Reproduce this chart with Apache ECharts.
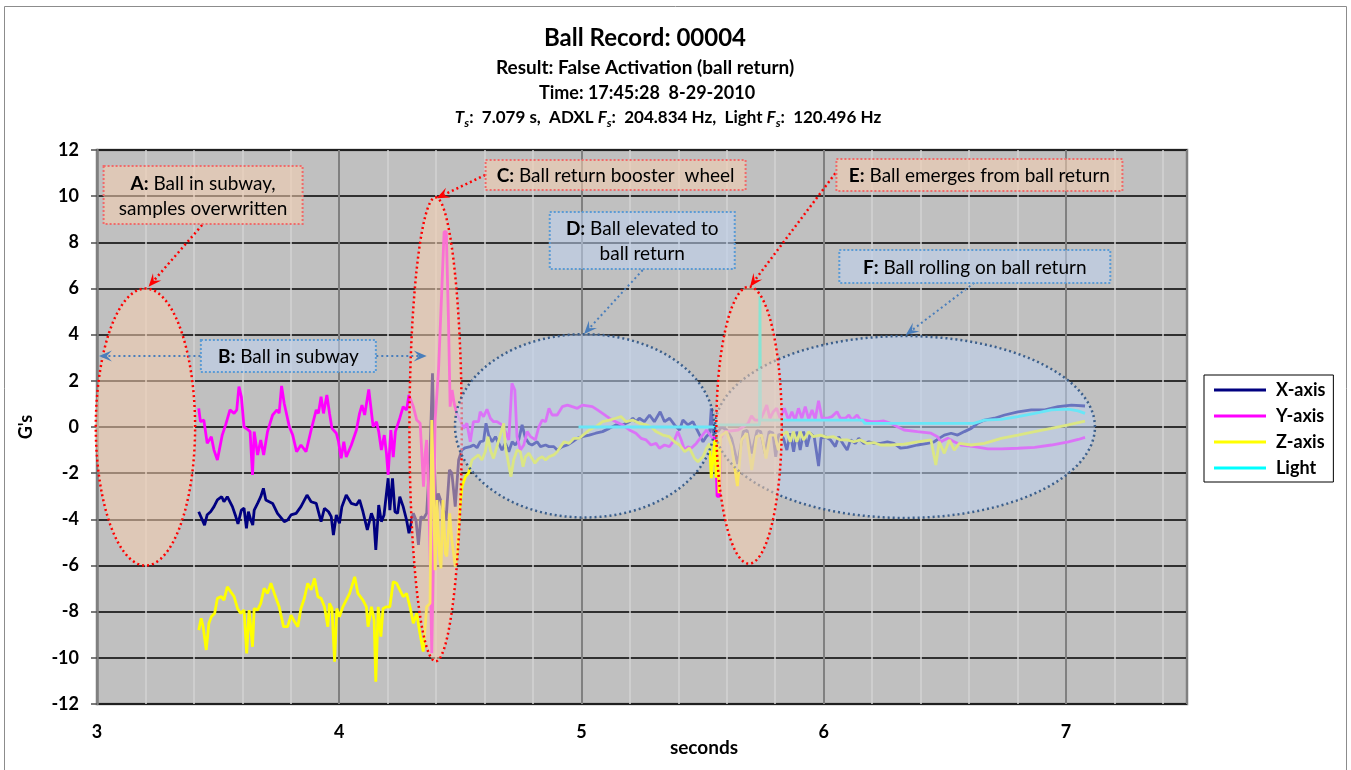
<!DOCTYPE html>
<html lang="en">
<head>
<meta charset="UTF-8">
<title>Ball Record: 00004</title>
<script src="https://cdn.jsdelivr.net/npm/echarts@6/dist/echarts.min.js"></script>
<style>
  html, body { margin: 0; padding: 0; background: #fff; }
  #main { width: 1351px; height: 770px; }
</style>
</head>
<body>
<div id="main"></div>
<script>
// traces, [seconds, G's]
var xAxisG = [[3.420,-3.67],[3.427,-3.75],[3.444,-4.25],[3.455,-3.8],[3.469,-3.67],[3.483,-3.45],[3.497,-3.16],[3.515,-3.02],[3.524,-3.24],[3.538,-3.02],[3.559,-3.45],[3.573,-3.88],[3.582,-4.20],[3.596,-3.60],[3.607,-3.52],[3.617,-4.39],[3.625,-3.67],[3.635,-4.03],[3.643,-4.25],[3.649,-3.60],[3.663,-3.31],[3.676,-3.02],[3.687,-2.66],[3.697,-3.16],[3.711,-3.24],[3.725,-3.31],[3.745,-3.74],[3.773,-4.10],[3.787,-4.03],[3.801,-3.81],[3.822,-3.74],[3.842,-3.45],[3.867,-2.95],[3.884,-3.24],[3.905,-3.31],[3.925,-4.10],[3.939,-3.52],[3.956,-3.67],[3.967,-3.88],[3.976,-4.68],[3.988,-3.81],[4.001,-4.17],[4.011,-3.45],[4.029,-2.95],[4.050,-3.31],[4.071,-3.38],[4.084,-3.16],[4.098,-3.67],[4.116,-4.46],[4.133,-3.74],[4.143,-4.03],[4.151,-5.33],[4.163,-3.38],[4.174,-4.10],[4.185,-3.81],[4.191,-3.88],[4.202,-2.22],[4.209,-3.60],[4.220,-2.22],[4.230,-3.67],[4.241,-3.74],[4.250,-3.02],[4.264,-3.45],[4.278,-4.03],[4.288,-4.60],[4.306,-3.74],[4.317,-4.03],[4.327,-5.11],[4.337,-3.88],[4.348,-3.96],[4.361,-3.74],[4.375,-1.14],[4.385,2.33],[4.392,-1.14],[4.400,-4.03],[4.409,-2.88],[4.423,-3.31],[4.430,-3.60],[4.441,-4.03],[4.455,-1.86],[4.465,-2.00],[4.479,-3.45],[4.493,-1.43],[4.506,-1.00],[4.520,-0.90],[4.541,-0.85],[4.555,-0.78],[4.569,-0.90],[4.582,-0.64],[4.596,-0.60],[4.606,0.16],[4.617,-0.35],[4.631,-0.64],[4.645,-0.42],[4.658,-0.70],[4.672,-1.00],[4.686,-0.70],[4.700,-1.07],[4.714,-0.64],[4.727,-0.78],[4.741,-0.56],[4.755,0.09],[4.769,-0.49],[4.783,-0.71],[4.796,-0.78],[4.817,-0.64],[4.831,-0.85],[4.852,-0.78],[4.866,-0.85],[4.886,-0.85],[4.900,-1.00],[4.921,-0.85],[4.942,-0.78],[4.963,-0.64],[4.983,-0.49],[5.004,-0.42],[5.032,-0.35],[5.059,-0.27],[5.087,-0.20],[5.115,-0.06],[5.142,0.09],[5.170,0.09],[5.198,0.23],[5.212,0.38],[5.225,0.23],[5.239,0.38],[5.260,0.23],[5.281,0.52],[5.301,0.23],[5.325,0.66],[5.343,0.23],[5.364,0.38],[5.384,0.09],[5.405,-0.13],[5.419,0.30],[5.440,0.09],[5.460,0.23],[5.481,-0.20],[5.502,-0.64],[5.515,-0.42],[5.529,-0.27],[5.536,0.81],[5.543,-0.27],[5.550,-0.13],[5.564,-0.20],[5.578,0.00],[5.600,-0.13],[5.620,-0.50],[5.645,-1.60],[5.668,-0.20],[5.684,-0.15],[5.703,-1.15],[5.725,-0.15],[5.740,-0.20],[5.758,-1.15],[5.775,-0.20],[5.790,-0.25],[5.802,-1.29],[5.815,-0.30],[5.834,-0.49],[5.848,-1.00],[5.862,-0.27],[5.876,-1.07],[5.889,-0.20],[5.903,-1.00],[5.917,-0.20],[5.931,-0.85],[5.945,-0.27],[5.961,-0.42],[5.979,-1.69],[5.989,-0.49],[6.007,-0.42],[6.028,-0.56],[6.048,-0.85],[6.062,-0.42],[6.083,-0.78],[6.097,-1.00],[6.111,-0.56],[6.131,-0.71],[6.145,-0.49],[6.166,-0.71],[6.187,-0.64],[6.207,-0.71],[6.235,-0.71],[6.263,-0.64],[6.290,-0.71],[6.318,-0.92],[6.346,-0.88],[6.387,-0.78],[6.429,-0.71],[6.456,-0.64],[6.477,-0.49],[6.498,-0.35],[6.526,-0.27],[6.553,-0.35],[6.581,-0.20],[6.609,-0.06],[6.636,0.16],[6.664,0.30],[6.705,0.38],[6.747,0.52],[6.802,0.66],[6.857,0.74],[6.913,0.74],[6.968,0.88],[7.023,0.95],[7.079,0.91]];

var yAxisG = [[3.420,0.81],[3.427,0.23],[3.441,0.30],[3.455,-0.71],[3.472,-0.42],[3.483,-1.00],[3.497,-1.43],[3.517,-0.35],[3.531,0.09],[3.549,0.74],[3.566,0.59],[3.577,0.74],[3.586,1.75],[3.596,1.31],[3.607,0.01],[3.621,-0.10],[3.632,-0.20],[3.642,-2.08],[3.649,-0.20],[3.663,-1.21],[3.676,-0.56],[3.688,-1.21],[3.704,-0.20],[3.725,0.52],[3.743,0.74],[3.752,0.60],[3.762,1.78],[3.773,1.02],[3.794,0.01],[3.808,-0.35],[3.824,-1.07],[3.842,-0.78],[3.863,-1.07],[3.884,-0.13],[3.905,0.74],[3.914,0.59],[3.925,1.31],[3.935,0.59],[3.949,1.39],[3.960,0.59],[3.970,-0.06],[3.988,-0.27],[3.997,-0.64],[4.008,-1.36],[4.019,-0.64],[4.029,-1.30],[4.050,-0.78],[4.071,-0.13],[4.084,0.59],[4.094,0.95],[4.105,0.52],[4.122,1.63],[4.140,0.01],[4.154,0.23],[4.163,-0.20],[4.174,-1.00],[4.186,-0.35],[4.195,-1.14],[4.202,-2.08],[4.213,-0.13],[4.223,-1.30],[4.232,-0.20],[4.250,0.38],[4.264,0.88],[4.278,0.74],[4.288,1.39],[4.292,1.46],[4.306,0.88],[4.320,0.30],[4.334,0.16],[4.341,-1.14],[4.348,-2.58],[4.355,-1.14],[4.361,-0.56],[4.368,-2.58],[4.375,-5.47],[4.382,-9.80],[4.389,-5.47],[4.396,0.30],[4.410,2.47],[4.424,6.08],[4.433,8.46],[4.442,8.46],[4.451,4.64],[4.458,0.88],[4.466,1.60],[4.475,1.00],[4.485,0.59],[4.499,0.30],[4.513,-0.06],[4.527,0.16],[4.541,-0.64],[4.554,0.23],[4.575,0.23],[4.582,0.66],[4.596,0.45],[4.610,0.77],[4.624,0.38],[4.637,0.23],[4.651,0.23],[4.672,0.09],[4.686,-0.20],[4.700,-0.56],[4.713,1.89],[4.725,1.60],[4.734,-0.42],[4.748,-1.00],[4.762,-0.78],[4.776,-0.20],[4.790,-0.42],[4.810,-0.56],[4.824,0.01],[4.838,0.30],[4.852,0.23],[4.866,0.81],[4.879,0.52],[4.900,0.52],[4.921,0.88],[4.942,0.95],[4.962,0.88],[4.983,0.81],[5.004,0.95],[5.045,0.88],[5.066,0.74],[5.087,0.59],[5.115,0.38],[5.142,0.23],[5.170,0.09],[5.198,-0.13],[5.225,-0.27],[5.246,-0.49],[5.267,-0.56],[5.287,-0.78],[5.308,-0.71],[5.322,-0.92],[5.343,-0.78],[5.363,-0.85],[5.384,-0.56],[5.398,-0.20],[5.412,-0.56],[5.426,-1.00],[5.440,-0.85],[5.453,-0.92],[5.474,-0.71],[5.495,-0.42],[5.516,-0.13],[5.536,-0.42],[5.553,-0.50],[5.560,-3.00],[5.570,-3.00],[5.574,-0.50],[5.592,-0.20],[5.647,-0.13],[5.688,0.16],[5.702,0.48],[5.716,0.30],[5.737,0.30],[5.751,0.59],[5.765,0.95],[5.778,0.38],[5.792,0.66],[5.806,0.81],[5.820,0.38],[5.838,0.81],[5.855,0.30],[5.869,0.66],[5.882,0.30],[5.896,0.81],[5.910,0.38],[5.924,0.88],[5.938,0.34],[5.952,0.74],[5.965,0.34],[5.979,1.14],[5.993,0.38],[6.014,0.38],[6.034,0.45],[6.055,0.66],[6.069,0.38],[6.090,0.38],[6.104,0.52],[6.117,0.30],[6.138,0.52],[6.152,0.30],[6.173,0.30],[6.194,0.23],[6.221,0.23],[6.249,0.26],[6.277,0.16],[6.304,0.01],[6.332,-0.13],[6.387,-0.20],[6.443,-0.27],[6.470,-0.42],[6.484,-0.64],[6.512,-0.49],[6.539,-0.64],[6.567,-0.78],[6.622,-0.85],[6.678,-0.95],[6.733,-0.95],[6.802,-0.92],[6.871,-0.88],[6.940,-0.78],[7.010,-0.64],[7.051,-0.54],[7.079,-0.45]];

var zAxisG = [[3.420,-8.80],[3.430,-8.29],[3.438,-8.65],[3.451,-9.66],[3.462,-8.50],[3.472,-8.22],[3.486,-8.07],[3.497,-7.42],[3.513,-7.35],[3.524,-7.50],[3.538,-6.92],[3.552,-7.14],[3.566,-7.35],[3.580,-7.86],[3.593,-8.07],[3.607,-7.93],[3.618,-9.81],[3.628,-7.93],[3.635,-7.86],[3.642,-9.52],[3.649,-7.86],[3.663,-7.93],[3.676,-7.64],[3.690,-6.99],[3.704,-7.21],[3.718,-6.77],[3.732,-7.21],[3.752,-7.79],[3.770,-8.65],[3.787,-8.65],[3.801,-8.15],[3.815,-8.43],[3.829,-8.65],[3.842,-7.86],[3.856,-7.42],[3.870,-6.77],[3.884,-7.06],[3.898,-6.56],[3.912,-7.35],[3.925,-7.42],[3.939,-7.79],[3.953,-8.65],[3.960,-7.64],[3.970,-7.86],[3.981,-10.17],[3.990,-7.86],[4.001,-8.22],[4.015,-7.79],[4.029,-7.50],[4.043,-7.21],[4.064,-6.49],[4.077,-7.21],[4.098,-7.50],[4.112,-7.79],[4.119,-8.65],[4.133,-7.79],[4.144,-8.36],[4.151,-11.03],[4.161,-7.79],[4.172,-9.08],[4.181,-7.86],[4.195,-7.79],[4.209,-7.79],[4.223,-6.70],[4.237,-6.77],[4.250,-7.06],[4.264,-7.35],[4.278,-7.21],[4.292,-7.79],[4.306,-8.50],[4.320,-8.07],[4.333,-8.94],[4.347,-9.73],[4.361,-7.79],[4.375,-7.64],[4.382,0.30],[4.389,-2.58],[4.396,-6.20],[4.403,-3.16],[4.413,-5.47],[4.420,-6.12],[4.428,-3.16],[4.438,-5.47],[4.444,-5.61],[4.456,-3.74],[4.465,-4.90],[4.479,-6.05],[4.486,-5.47],[4.497,-3.59],[4.507,-2.58],[4.521,-2.15],[4.534,-2.00],[4.548,-1.43],[4.554,-1.50],[4.575,-1.21],[4.589,-1.43],[4.603,-1.07],[4.614,-0.42],[4.624,-1.00],[4.637,-1.36],[4.651,-0.85],[4.665,-0.35],[4.679,0.16],[4.686,-0.85],[4.700,-1.65],[4.709,-2.15],[4.720,-1.43],[4.734,-1.00],[4.748,-1.07],[4.759,-1.72],[4.769,-1.29],[4.783,-1.14],[4.796,-1.36],[4.808,-1.57],[4.824,-1.36],[4.838,-1.29],[4.852,-1.43],[4.866,-1.29],[4.886,-1.21],[4.900,-1.07],[4.914,-0.85],[4.928,-0.64],[4.949,-0.71],[4.969,-0.49],[4.990,-0.49],[5.032,-0.13],[5.059,0.01],[5.087,0.23],[5.115,0.30],[5.142,0.38],[5.163,0.45],[5.184,0.23],[5.211,0.30],[5.239,0.16],[5.267,0.09],[5.287,0.01],[5.308,-0.20],[5.336,-0.35],[5.363,-0.42],[5.384,-0.64],[5.405,-0.78],[5.426,-1.07],[5.446,-0.92],[5.467,-1.36],[5.481,-1.50],[5.502,-1.29],[5.516,-0.92],[5.529,-0.71],[5.536,-2.22],[5.550,-0.56],[5.556,-2.20],[5.562,-0.50],[5.568,-2.87],[5.574,-0.40],[5.599,-0.20],[5.620,-0.85],[5.644,-2.56],[5.661,-0.56],[5.682,-0.27],[5.703,-1.86],[5.723,-0.42],[5.744,-0.35],[5.762,-1.36],[5.779,-0.35],[5.799,-0.35],[5.813,-1.00],[5.827,-0.35],[5.848,-0.20],[5.862,-0.64],[5.875,-0.20],[5.889,-0.64],[5.903,-0.20],[5.917,-0.56],[5.938,-0.20],[5.958,-0.42],[5.986,-0.35],[6.014,-0.45],[6.041,-0.42],[6.069,-0.56],[6.097,-0.56],[6.124,-0.64],[6.152,-0.56],[6.180,-0.71],[6.207,-0.68],[6.235,-0.78],[6.277,-0.78],[6.332,-0.74],[6.387,-0.64],[6.443,-0.56],[6.463,-1.65],[6.477,-0.64],[6.498,-1.14],[6.519,-0.56],[6.539,-1.00],[6.560,-0.71],[6.609,-0.78],[6.664,-0.71],[6.733,-0.49],[6.802,-0.35],[6.871,-0.20],[6.940,-0.06],[7.010,0.09],[7.079,0.25]];

var lightG = [[4.988,0.00],[5.553,0.00],[5.560,0.09],[5.735,0.09],[5.737,5.65],[5.739,0.30],[6.160,0.30],[6.170,0.16],[6.620,0.16],[6.664,0.30],[6.733,0.33],[6.802,0.45],[6.871,0.59],[6.940,0.74],[7.010,0.77],[7.050,0.70],[7.079,0.59]];

var seriesNames = ['X-axis', 'Y-axis', 'Z-axis', 'Light'];
var seriesColors = ['#000080', '#ff00ff', '#ffff00', '#00ffff'];
var xRange = [3, 7.5];
var yRange = [-12, 12];

// annotation ellipses in data units
var regions = [
    {cx: 4.398, cy: -0.10, rx: 0.108, ry: 10.05, kind: 'red'},
    {cx: 3.200, cy: 0.00, rx: 0.205, ry: 6.00, kind: 'red'},
    {cx: 5.013, cy: 0.05, rx: 0.535, ry: 3.97, kind: 'blue'},
    {cx: 6.336, cy: 0.00, rx: 0.784, ry: 3.94, kind: 'blue'},
    {cx: 5.692, cy: 0.08, rx: 0.135, ry: 6.00, kind: 'red'}
];

// callout boxes: centre in data units, size in px
var notes = [
    {key: 'A', lines: ['Ball in subway,', 'samples overwritten'], t: 3.438, v: 10.05, w: 199, h: 58, kind: 'red'},
    {key: 'B', lines: ['Ball in subway'], t: 3.790, v: 3.08, w: 175, h: 32, kind: 'blue'},
    {key: 'C', lines: ['Ball return booster  wheel'], t: 5.141, v: 10.92, w: 260, h: 30, kind: 'red'},
    {key: 'D', lines: ['Ball elevated to', 'ball return'], t: 5.251, v: 8.08, w: 185, h: 57, kind: 'blue'},
    {key: 'E', lines: ['Ball emerges from ball return'], t: 6.643, v: 10.92, w: 286, h: 32, kind: 'red'},
    {key: 'F', lines: ['Ball rolling on ball return'], t: 6.624, v: 6.95, w: 271, h: 33, kind: 'blue'}
];

var pointers = [
    {from: [3.434, 8.75], to: [3.213, 6.08], kind: 'red'},
    {from: [3.427, 3.08], to: [3.008, 3.08], kind: 'blue'},
    {from: [4.153, 3.08], to: [4.361, 3.08], kind: 'blue'},
    {from: [4.603, 10.92], to: [4.402, 9.91], kind: 'red'},
    {from: [5.253, 6.80], to: [5.011, 4.03], kind: 'blue'},
    {from: [6.048, 10.99], to: [5.696, 6.08], kind: 'red'},
    {from: [6.622, 6.25], to: [6.339, 3.99], kind: 'blue'}
];

var FONT = 'Lato, "Open Sans", sans-serif';
var look = {
    red: {fill: 'rgba(245,205,175,0.55)', edge: '#ff0000', box: '#f06a6a', arrow: '#ff0000'},
    blue: {fill: 'rgba(190,210,240,0.55)', edge: '#3b5f8c', box: '#5b9bd5', arrow: '#4a7ebb'}
};

var myChart = echarts.init(document.getElementById('main'));

var series = [xAxisG, yAxisG, zAxisG, lightG].map(function (d, i) {
    return {
        name: seriesNames[i],
        type: 'line',
        data: d,
        showSymbol: false,
        symbol: 'none',
        color: seriesColors[i],
        lineStyle: {width: 2.8, color: seriesColors[i]},
        z: 2
    };
});

myChart.setOption({
    animation: false,
    grid: {
        left: 97, top: 150, width: 1090, height: 554,
        show: true, backgroundColor: '#c0c0c0', borderColor: '#808080', borderWidth: 2.5
    },
    legend: {
        data: seriesNames,
        orient: 'vertical',
        left: 1204, top: 375,
        padding: [5, 8, 4, 10],
        itemGap: 6,
        itemWidth: 52, itemHeight: 3,
        icon: 'rect',
        backgroundColor: '#fff', borderColor: '#000', borderWidth: 1,
        textStyle: {fontFamily: FONT, fontSize: 18, fontWeight: 'bold', color: '#000', lineHeight: 20, padding: [0, 0, 0, 5]},
        z: 20
    },
    xAxis: {
        type: 'value', min: xRange[0], max: xRange[1], interval: 1,
        axisLine: {show: false},
        axisTick: {show: false},
        axisLabel: {
            fontFamily: FONT, fontSize: 18, fontWeight: 'bold', color: '#000', margin: 19,
            formatter: function (v) { return v % 1 === 0 ? String(v) : ''; }
        },
        splitLine: {show: true, lineStyle: {color: '#808080', width: 2}},
        minorTick: {show: false, splitNumber: 5},
        minorSplitLine: {show: true, lineStyle: {color: '#d2d2d2', width: 1.5}}
    },
    yAxis: {
        type: 'value', min: yRange[0], max: yRange[1], interval: 2,
        name: "G's", nameLocation: 'middle', nameGap: 62, nameRotate: 90,
        nameTextStyle: {fontFamily: FONT, fontSize: 18, fontWeight: 'bold', color: '#000'},
        axisLine: {show: true, lineStyle: {color: '#808080', width: 2.5}},
        axisTick: {show: true, length: 6, lineStyle: {color: '#505050', width: 1.5}},
        axisLabel: {fontFamily: FONT, fontSize: 18, fontWeight: 'bold', color: '#000', margin: 18},
        splitLine: {show: true, lineStyle: {color: '#000', width: 1.5}}
    },
    series: series
});

function px(p) { return myChart.convertToPixel({gridIndex: 0}, p); }

var graphics = [];

// outer chart frame
graphics.push({type: 'rect', z: 0, silent: true,
    shape: {x: 4.5, y: 6.5, width: 1342, height: 775},
    style: {fill: 'none', stroke: '#8c8c8c', lineWidth: 1}});

// titles and x axis name
var titleLines = [
    {text: 'Ball Record: 00004', x: 645, y: 38, size: 24},
    {text: 'Result: False Activation (ball return)', x: 645, y: 68, size: 19},
    {text: 'Time: 17:45:28  8-29-2010', x: 647, y: 93, size: 18},
    {text: 'seconds', x: 704, y: 748, size: 19}
];
titleLines.forEach(function (l) {
    graphics.push({type: 'text', x: l.x, y: l.y, z: 10, style: {
        text: l.text, fontFamily: FONT, fontSize: l.size, fontWeight: 'bold', fill: '#000',
        align: 'center', verticalAlign: 'middle'}});
});
graphics.push({type: 'text', x: 668, y: 118, z: 10, style: {
    text: '{i|T}{s|s}{b|:  7.079 s,  ADXL }{i|F}{s|s}{b|:  204.834 Hz,  Light }{i|F}{s|s}{b|:  120.496 Hz}',
    align: 'center', verticalAlign: 'middle',
    rich: {
        b: {fontFamily: FONT, fontSize: 17, fontWeight: 'bold', fill: '#000', lineHeight: 22},
        i: {fontFamily: FONT, fontSize: 17, fontWeight: 'bold', fontStyle: 'italic', fill: '#000', lineHeight: 22},
        s: {fontFamily: FONT, fontSize: 12, fontWeight: 'bold', fontStyle: 'italic', fill: '#000', lineHeight: 12, verticalAlign: 'bottom'}
    }}});

// ellipses
regions.forEach(function (r) {
    var pts = [];
    for (var k = 0; k < 160; k++) {
        var a = k / 160 * Math.PI * 2;
        pts.push(px([r.cx + r.rx * Math.cos(a), r.cy + r.ry * Math.sin(a)]));
    }
    graphics.push({type: 'polygon', z: 5, silent: true, shape: {points: pts},
        style: {fill: look[r.kind].fill, stroke: look[r.kind].edge, lineWidth: 2.5, lineDash: [2, 3]}});
});

// arrows
pointers.forEach(function (p) {
    var a = px(p.from), b = px(p.to);
    var dx = b[0] - a[0], dy = b[1] - a[1];
    var len = Math.sqrt(dx * dx + dy * dy);
    var ux = dx / len, uy = dy / len, nx = -uy, ny = ux;
    var L = 13, W = 5.5;
    var notch = [b[0] - ux * L * 0.6, b[1] - uy * L * 0.6];
    var col = look[p.kind].arrow;
    graphics.push({type: 'line', z: 7, silent: true,
        shape: {x1: a[0], y1: a[1], x2: notch[0], y2: notch[1]},
        style: {stroke: col, lineWidth: p.kind === 'red' ? 2.5 : 2, lineDash: [2, 3]}});
    graphics.push({type: 'polygon', z: 7, silent: true,
        shape: {points: [b, [b[0] - ux * L + nx * W, b[1] - uy * L + ny * W], notch, [b[0] - ux * L - nx * W, b[1] - uy * L - ny * W]]},
        style: {fill: col}});
});

// callout boxes
notes.forEach(function (n) {
    var c = px([n.t, n.v]);
    graphics.push({type: 'rect', z: 8, silent: true,
        shape: {x: c[0] - n.w / 2, y: c[1] - n.h / 2, width: n.w, height: n.h},
        style: {fill: look[n.kind].fill, stroke: look[n.kind].box, lineWidth: 2, lineDash: [2, 2]}});
    var txt = '{k|' + n.key + ':} ' + n.lines.join('\n');
    graphics.push({type: 'text', z: 9, silent: true, x: c[0], y: c[1] + 1, style: {
        text: txt, fontFamily: FONT, fontSize: 19, fill: '#000', lineHeight: 25,
        align: 'center', verticalAlign: 'middle',
        rich: {k: {fontFamily: FONT, fontSize: 19, fontWeight: 'bold', fill: '#000', lineHeight: 25}}}});
});

myChart.setOption({graphic: graphics});
</script>
</body>
</html>
